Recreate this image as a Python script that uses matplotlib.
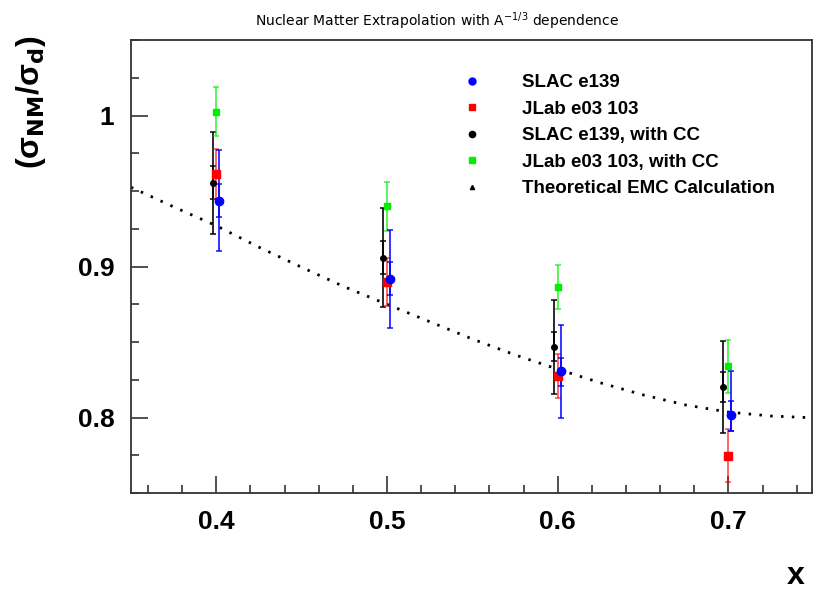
"""Nuclear matter extrapolation (A^-1/3) -- EMC ratio vs x, ROOT-style look."""
import matplotlib
matplotlib.use("Agg")
import matplotlib.pyplot as plt
from matplotlib.lines import Line2D
from matplotlib.ticker import MultipleLocator, FormatStrFormatter

# SLAC e139 (blue), total + stat errors (lower/upper)
slac_x = [0.4015, 0.502, 0.602, 0.7015]
slac_y = [0.9435, 0.892, 0.8305, 0.8015]
slac_tot_lo = [0.0335, 0.0325, 0.031, 0.0105]
slac_tot_hi = [0.0335, 0.032, 0.0305, 0.0295]
slac_stat_lo = [0.0105, 0.011, 0.0097, 0.0105]
slac_stat_hi = [0.011, 0.011, 0.009, 0.0095]

# JLab e03 103 (red)
jlab_x = [0.4, 0.5, 0.6, 0.6996]
jlab_y = [0.961, 0.8898, 0.8274, 0.7747]
jlab_err = [0.0165, 0.016, 0.0147, 0.0175]

# SLAC e139 with CC (black)
slaccc_x = [0.3978, 0.4976, 0.5978, 0.697]
slaccc_y = [0.9554, 0.9059, 0.8468, 0.8204]
slaccc_tot = [0.034, 0.033, 0.031, 0.0305]
slaccc_stat = [0.011, 0.011, 0.0097, 0.010]

# JLab e03 103 with CC (green)
jlabcc_x = [0.4, 0.5, 0.6, 0.7]
jlabcc_y = [1.0026, 0.940, 0.8863, 0.834]
jlabcc_err = [0.0163, 0.0162, 0.0144, 0.0175]

# theoretical EMC calculation (dotted curve)
theory_x = [0.350, 0.375, 0.400, 0.425, 0.450, 0.475, 0.500, 0.525, 0.550,
            0.575, 0.600, 0.625, 0.650, 0.675, 0.700, 0.725, 0.750]
theory_y = [0.9525, 0.9395, 0.927, 0.9128, 0.8995, 0.8866, 0.875, 0.8635, 0.852,
            0.8415, 0.832, 0.823, 0.815, 0.8083, 0.8036, 0.801, 0.7998]

BLUE, RED, BLACK, GREEN = "#0000ff", "#ff0000", "#000000", "#00ee00"

plt.rcParams["font.family"] = ["Liberation Sans", "DejaVu Sans"]

fig = plt.figure(figsize=(8.16, 6.0), dpi=100)
ax = fig.add_axes([0.1605, 0.1783, 0.8346, 0.755])

# theory curve as a dotted line
ax.plot(theory_x, theory_y, color="k", lw=2.0, dashes=(0.9, 3.0),
        dash_capstyle="butt", zorder=2)


def bars(x, y, lo, hi, color, alpha):
    ax.errorbar(x, y, yerr=[lo, hi], fmt="none", ecolor=color, elinewidth=1.3,
                capsize=2.2, capthick=1.2, alpha=alpha, zorder=3)


bars(slaccc_x, slaccc_y, slaccc_tot, slaccc_tot, BLACK, 0.9)
bars(slaccc_x, slaccc_y, slaccc_stat, slaccc_stat, BLACK, 0.9)
ax.plot(slaccc_x, slaccc_y, ls="none", marker="o", ms=4, color=BLACK, zorder=4)

bars(jlabcc_x, jlabcc_y, jlabcc_err, jlabcc_err, GREEN, 0.7)
ax.plot(jlabcc_x, jlabcc_y, ls="none", marker="s", ms=4, color=GREEN, zorder=4)

bars(jlab_x, jlab_y, jlab_err, jlab_err, RED, 0.65)
ax.plot(jlab_x, jlab_y, ls="none", marker="s", ms=5.5, color=RED, zorder=5)

bars(slac_x, slac_y, slac_tot_lo, slac_tot_hi, BLUE, 0.85)
bars(slac_x, slac_y, slac_stat_lo, slac_stat_hi, BLUE, 0.85)
ax.plot(slac_x, slac_y, ls="none", marker="o", ms=6, color=BLUE, zorder=6)

ax.set_xlim(0.35, 0.749)
ax.set_ylim(0.75, 1.05)
ax.xaxis.set_major_locator(MultipleLocator(0.1))
ax.xaxis.set_minor_locator(MultipleLocator(0.02))
ax.yaxis.set_major_locator(MultipleLocator(0.1))
ax.yaxis.set_minor_locator(MultipleLocator(0.025))
ax.xaxis.set_major_formatter(FormatStrFormatter("%g"))
ax.yaxis.set_major_formatter(FormatStrFormatter("%g"))
ax.tick_params(which="both", direction="in", top=False, right=False,
               width=1.2, color="#333333")
ax.tick_params(which="major", length=12, labelsize=19, pad=12)
ax.tick_params(which="minor", length=6)
for lab in ax.get_xticklabels() + ax.get_yticklabels():
    lab.set_fontweight("bold")
for sp in ax.spines.values():
    sp.set_linewidth(1.3)
    sp.set_color("#333333")

handles = [
    Line2D([], [], ls="none", marker="o", ms=5, color=BLUE),
    Line2D([], [], ls="none", marker="s", ms=5, color=RED),
    Line2D([], [], ls="none", marker="o", ms=4.5, color=BLACK),
    Line2D([], [], ls="none", marker="s", ms=4.5, color=GREEN),
    Line2D([], [], ls="none", marker="^", ms=3, color=BLACK),
]
labels = ["SLAC e139", "JLab e03 103", "SLAC e139, with CC",
          "JLab e03 103, with CC", "Theoretical EMC Calculation"]
ax.legend(handles, labels, loc="upper left", bbox_to_anchor=(0.473, 0.925),
          frameon=False, borderpad=0, borderaxespad=0, handlelength=2.0,
          handletextpad=1.7, labelspacing=0.5,
          prop={"size": 13.5, "weight": "bold"})

fig.text(0.536, 0.965, r"Nuclear Matter Extrapolation with A$^{-1/3}$ dependence",
         ha="center", va="center", fontsize=10, family="DejaVu Sans")
fig.text(0.975, 0.04, "x", ha="center", va="center", fontsize=23,
         fontweight="bold")
fig.text(0.038, 0.83, r"(σ$_{\mathbf{NM}}$/σ$_{\mathbf{d}}$)",
         rotation=90, ha="center", va="center", fontsize=23, fontweight="bold")

fig.savefig("out.png", dpi=100)
